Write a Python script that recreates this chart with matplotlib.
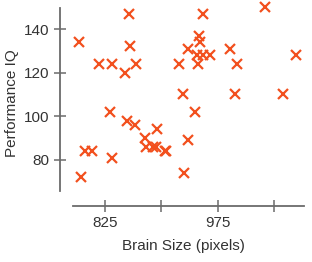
import matplotlib
matplotlib.use("Agg")
import matplotlib.pyplot as plt
from matplotlib import font_manager

brain_size = [816.932, 1001.121, 1038.437, 965.353, 951.545, 928.799, 991.305, 854.258,
              904.858, 955.466, 833.868, 1079.549, 924.059, 856.472, 878.897, 865.363,
              852.244, 945.088, 808.020, 889.083, 892.420, 905.940, 790.619, 955.003,
              831.772, 935.494, 798.612, 1062.462, 793.549, 866.662, 857.782, 949.589,
              997.925, 879.987, 834.344, 948.066, 949.395, 893.983, 930.016, 935.863]
piq = [124, 124, 150, 128, 134, 110, 131, 98, 84, 147, 124, 128, 124, 147, 90, 96,
       120, 102, 84, 86, 86, 84, 134, 128, 102, 131, 84, 110, 72, 124, 132, 137,
       110, 86, 81, 128, 124, 94, 74, 89]
x_ticks = [825, 900, 975, 1050]
x_tick_labels = ["825", "", "975", ""]
y_ticks = [80, 100, 120, 140]
x_label = "Brain Size (pixels)"
y_label = "Performance IQ"

names = {f.name for f in font_manager.fontManager.ttflist}
fam = ["Liberation Sans Narrow", "DejaVu Sans"] if "Liberation Sans Narrow" in names else ["Liberation Sans", "DejaVu Sans"]
plt.rcParams['font.family'] = fam

W, H = 312, 262
fig = plt.figure(figsize=(W / 100, H / 100), dpi=100)
ax = fig.add_axes([60 / W, 56 / H, (306 - 60) / W, 206 / H])

ax.plot(brain_size, piq, linestyle="none", marker="x", color="#F2501E",
        markersize=7, markeredgewidth=1.6, clip_on=False)

ax.set_xlim(765.1, 1092.7)
ax.set_ylim(58.9, 153.3)

spine_col = "#6b6b6b"
for s in ["top", "right"]:
    ax.spines[s].set_visible(False)
for s in ["left", "bottom"]:
    ax.spines[s].set_color(spine_col)
    ax.spines[s].set_linewidth(1.3)
ax.spines["bottom"].set_bounds(782.8, 1090.1)
ax.spines["left"].set_bounds(65.8, 149.6)

ax.set_xticks(x_ticks)
ax.set_xticklabels(x_tick_labels)
ax.set_yticks(y_ticks)
ax.tick_params(axis="both", direction="inout", length=9, width=1.1, color=spine_col,
               labelsize=11, labelcolor="#333333", pad=3)
ax.set_xlabel(x_label, fontsize=11, color="#333333", labelpad=6)
ax.set_ylabel(y_label, fontsize=11, color="#333333", labelpad=4)

fig.savefig("out.png", dpi=100)
